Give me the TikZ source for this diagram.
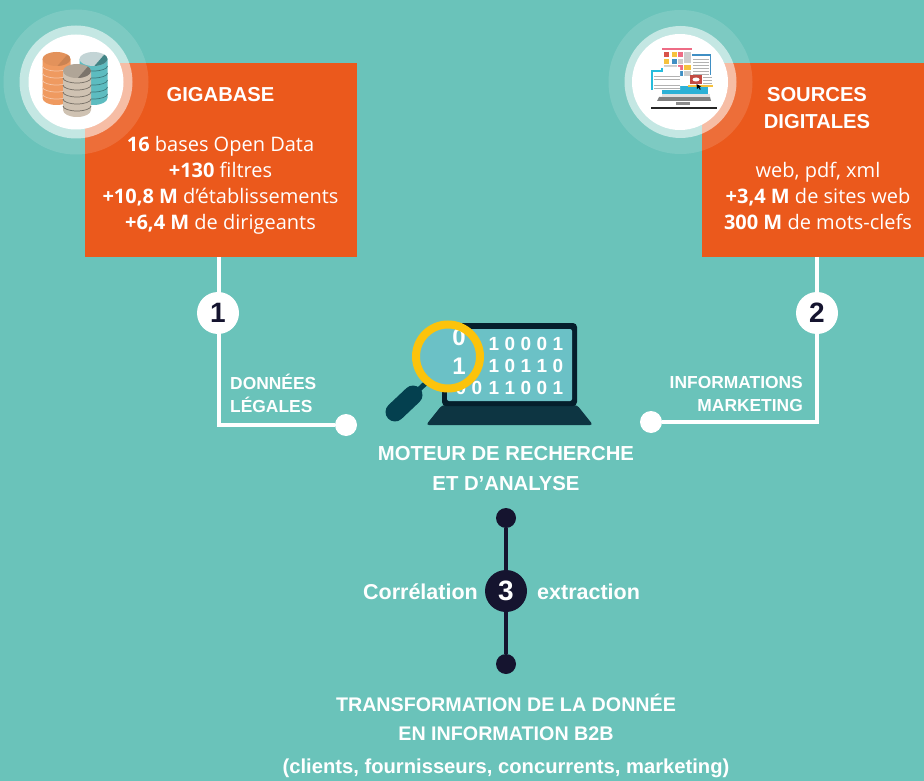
\documentclass[tikz,border=0pt]{standalone}
\usepackage{fontspec}
\setmainfont{Open Sans}
\newfontfamily\headfont{Liberation Sans}
\definecolor{bgteal}{HTML}{6AC3BA}
\definecolor{boxorange}{HTML}{EB591C}
\definecolor{navy}{HTML}{15142F}
\definecolor{lapdark}{HTML}{0D3542}
\definecolor{lapscreen}{HTML}{6BC1C6}
\definecolor{lapframe}{HTML}{051F2C}
\definecolor{lensring}{HTML}{FCC30B}
\definecolor{handle}{HTML}{04404F}
\definecolor{peach}{HTML}{EF9A60}
\definecolor{tealdb}{HTML}{5DBCC0}
\definecolor{taupe}{HTML}{CFC2B2}
\definecolor{tilered}{HTML}{D9534A}
\definecolor{tileyellow}{HTML}{F6C23E}
\definecolor{tilepink}{HTML}{EE6C85}
\definecolor{tileblue}{HTML}{3F8FC4}
\definecolor{tilegrey}{HTML}{CDCDCD}
\tikzset{
  x=1pt,y=-1pt,
  infobox/.style={fill=boxorange,draw=none},
  boxtitle/.style={font=\headfont\bfseries\fontsize{20.2}{27}\selectfont,text=white,align=center},
  boxbody/.style={font=\fontsize{20}{26}\selectfont,text=white,align=center},
  linklabel/.style={font=\headfont\bfseries\fontsize{17.4}{22.5}\selectfont,text=white},
  headline/.style={font=\headfont\bfseries\fontsize{20.3}{30}\selectfont,text=white,align=center},
  whiteline/.style={draw=white,line width=3.6pt},
  navyline/.style={draw=navy,line width=3.6pt},
  numwhite/.style={circle,fill=white,minimum size=42pt,inner sep=0pt,text=navy,font=\headfont\bfseries\fontsize{28}{28}\selectfont},
  numnavy/.style={circle,fill=navy,minimum size=42pt,inner sep=0pt,text=white,font=\headfont\bfseries\fontsize{28}{28}\selectfont},
  dotwhite/.style={circle,fill=white,minimum size=22pt,inner sep=0pt},
  dotnavy/.style={circle,fill=navy,minimum size=20pt,inner sep=0pt},
  halo/.style={fill=white,fill opacity=.13,draw=none},
  halomid/.style={fill=white,fill opacity=.55,draw=none},
  codebit/.style={font=\headfont\bfseries\fontsize{19}{19}\selectfont,text=white,inner sep=0pt,anchor=base},
  lensbit/.style={font=\headfont\bfseries\fontsize{24}{24}\selectfont,text=white,inner sep=0pt,anchor=base},
  sidetext/.style={font=\headfont\bfseries\fontsize{21.5}{24}\selectfont,text=white,inner sep=0pt},
}
% x centre, top y, body colour, line colour, lid colour, wedge colour
\newcommand{\dbstack}[6]{%
  \fill[#3] (#1-14,#2+7) -- (#1-14,#2+46) arc[x radius=14,y radius=7,start angle=180,end angle=0] -- (#1+14,#2+7) -- cycle;
  \foreach \k in {1,...,5}{\draw[#4,line width=.7pt] (#1-14,#2+7+\k*7) arc[x radius=14,y radius=5,start angle=180,end angle=0];}
  \fill[#5] (#1,#2+7) ellipse[x radius=14,y radius=7];
  \begin{scope}
    \clip (#1,#2+7) ellipse[x radius=14,y radius=7];
    \fill[#6] (#1+14,#2-1) -- (#1+14,#2+15) -- (#1,#2+15) -- cycle;
  \end{scope}
}
\begin{document}
\begin{tikzpicture}
\useasboundingbox (0,0) rectangle (924,781);
\fill[bgteal] (0,0) rectangle (924,781);
% boxes
\node[infobox,minimum width=272pt,minimum height=194pt,inner sep=0pt,anchor=north west] (boxA) at (85,63) {};
\node[infobox,minimum width=222pt,minimum height=194pt,inner sep=0pt,anchor=north west] (boxB) at (702,63) {};
% connectors
\coordinate (cornerA) at (219,425);
\coordinate (cornerB) at (817,422);
\coordinate (topA) at (219,257);
\coordinate (topB) at (817,257);
\node[dotwhite] (dotA) at (346,425) {};
\node[dotwhite] (dotB) at (651,422) {};
\draw[whiteline] (topA) -- (cornerA) -- (dotA);
\draw[whiteline] (topB) -- (cornerB) -- (dotB);
\node[numwhite] (numA) at (218,313) {1};
\node[numwhite] (numB) at (817,313) {2};
% halo + icon A
\fill[halo] (76,82) circle (72.5);
\fill[halomid] (76,82) circle (56.5);
\fill[white] (76,82) circle (47.5);
\dbstack{56.5}{52}{peach}{white!45!peach}{peach!95!black}{peach!85!black}
\dbstack{93.5}{52}{tealdb}{black!35!tealdb}{tealdb!60!black!30!white}{tealdb!70!black}
\dbstack{77}{64}{taupe}{black!45!taupe}{taupe!85!black}{taupe!60!black}
% halo + icon B
\fill[halo] (680.5,82) circle (72);
\fill[halomid] (680.5,82) circle (56);
\fill[white] (680,82) circle (48);
\fill[black!85] (651,107) rectangle (717,109.5);
\fill[black!50] (659,97) -- (710,97) -- (711,101) -- (657,101) -- cycle;
\fill[black!12] (662,94) rectangle (710,97);
\fill[black!45] (676,102) rectangle (690,105);
\fill[tileblue!70!cyan] (662,90) rectangle (708,94);
\fill[tileblue!70!cyan] (680,86) rectangle (708,90);
\draw[tilepink,line width=1.4pt] (662,49) -- (692,49);
\fill[tilered] (664,52) rectangle (669,57);
\fill[tileyellow] (672,52) rectangle (677,57);
\fill[tilepink] (678,52) rectangle (683,57);
\fill[tilegrey] (684,52) rectangle (691,63);
\fill[tileyellow] (664,59) rectangle (669,64);
\fill[tileblue] (672,59) rectangle (677,64);
\fill[tilegrey] (678,59) rectangle (683,64);
\fill[tilegrey] (664,65) rectangle (677,76);
\fill[tilepink] (678,65) rectangle (683,70);
\fill[tileyellow] (684,65) rectangle (691,70);
\fill[tileblue] (678,71) rectangle (683,76);
\fill[tilegrey] (684,71) rectangle (691,76);
\fill[white] (692,54) rectangle (711,86);
\draw[tileblue,line width=1.2pt] (692,55) -- (710.5,55) -- (710.5,75);
\foreach \y in {59,62,65,68,71,74}{\draw[black!30,line width=.9pt] (693,\y) -- (709,\y);}
\foreach \y in {77,80,83}{\draw[black!30,line width=.9pt] (703,\y) -- (712,\y);}
\draw[tileyellow,line width=1.2pt] (688,86) -- (713,86);
\fill[white] (652,71) -- (662,71) -- (662,67) -- (680,67) -- (680,90) -- (652,90) -- cycle;
\draw[tileblue!60!cyan,line width=1.5pt] (652,90) -- (652,71) -- (662,71) -- (662,68);
\foreach \y in {76,79,85,88}{\draw[black!30,line width=.9pt] (654,\y) -- (680,\y);}
\fill[tilered!90!black] (690,75) rectangle (702,84);
\fill[white] (696,79.5) ellipse (3.5 and 2);
\fill[black] (696.5,84) -- (697,89) -- (698.5,87.5) -- (700,90) -- (700.5,89) -- (699.5,87) -- (701,86.5) -- cycle;
% box text
\node[boxtitle] (titleA) at (220.5,94.5) {GIGABASE};
\node[boxbody] (bodyA) at (220.5,185) {\textbf{16} bases Open Data\\\textbf{+130} filtres\\\textbf{+10,8 M} d’établissements\\\textbf{+6,4 M} de dirigeants};
\node[boxtitle] (titleB) at (817,108) {SOURCES\\DIGITALES};
\node[boxbody] (bodyB) at (818,196) {web, pdf, xml\\\textbf{+3,4 M} de sites web\\\textbf{300 M} de mots-clefs};
% labels
\node[linklabel,align=left,anchor=west,inner sep=0pt] (lblA) at (230,393.5) {DONNÉES\\LÉGALES};
\node[linklabel,align=right,anchor=east,inner sep=0pt] (lblB) at (803,394) {INFORMATIONS\\MARKETING};
% laptop
\fill[lapdark,rounded corners=3pt] (442,405) -- (577,405) -- (593,425) -- (426,425) -- cycle;
\fill[lapframe,rounded corners=4pt] (442,323) rectangle (577,406);
\fill[lapscreen,rounded corners=2pt] (447,329) rectangle (572,401);
\foreach \t/\x in {1/494,0/510,0/526,0/542,1/558}{\node[codebit] at (\x,350) {\t};}
\foreach \t/\x in {1/494,0/510,1/526,1/542,0/558}{\node[codebit] at (\x,372) {\t};}
\foreach \t/\x in {0/461,0/477,1/494,1/510,0/526,0/542,1/558}{\node[codebit] at (\x,394) {\t};}
% magnifier
\draw[handle,line width=5pt] (413,395) -- (427,382);
\draw[handle,line width=19pt,line cap=round] (395,412) -- (413,395);
\fill[lapscreen] (448,356.5) circle (29);
\node[lensbit] at (459,345) {0};
\node[lensbit] at (459,374) {1};
\draw[lensring,line width=8pt] (448,356.5) circle (32);
% headline
\node[headline] (engine) at (506,468.5) {MOTEUR DE RECHERCHE\\ET D’ANALYSE};
% step 3
\node[dotnavy] (dotC) at (506,518) {};
\node[dotnavy] (dotD) at (506,664) {};
\draw[navyline] (dotC) -- (dotD);
\node[numnavy] (numC) at (506,591) {3};
\node[sidetext,anchor=east] (corr) at (478,592) {Corrélation};
\node[sidetext,anchor=west] (extr) at (537,592) {extraction};
\node[headline,font=\headfont\bfseries\fontsize{19.7}{29}\selectfont] (transf) at (506,717.5) {TRANSFORMATION DE LA DONNÉE\\EN INFORMATION B2B};
\node[font=\headfont\bfseries\fontsize{20.2}{24}\selectfont,text=white] (paren) at (506,768) {(clients, fournisseurs, concurrents, marketing)};
\end{tikzpicture}
\end{document}
